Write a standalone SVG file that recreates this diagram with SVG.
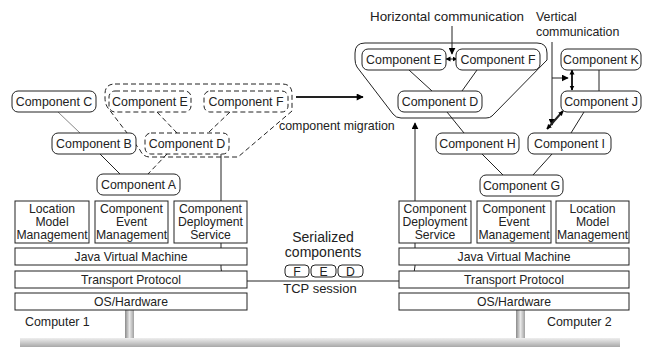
<svg xmlns="http://www.w3.org/2000/svg" width="645" height="348" viewBox="0 0 645 348">
<defs>
<marker id="ah" viewBox="0 0 10 10" refX="9" refY="5" markerWidth="7" markerHeight="7" markerUnits="userSpaceOnUse" orient="auto-start-reverse"><path d="M0,0 L10,5 L0,10 Z" fill="#000"/></marker>
<marker id="ahm" viewBox="0 0 10 10" refX="9" refY="5" markerWidth="8" markerHeight="7" markerUnits="userSpaceOnUse" orient="auto-start-reverse"><path d="M0,0 L10,5 L0,10 Z" fill="#000"/></marker>
<marker id="ahs" viewBox="0 0 10 10" refX="9" refY="5" markerWidth="5" markerHeight="6" markerUnits="userSpaceOnUse" orient="auto-start-reverse"><path d="M0,0 L10,5 L0,10 Z" fill="#000"/></marker>
<linearGradient id="pipe" x1="0" y1="0" x2="1" y2="0"><stop offset="0" stop-color="#8a8a8a"/><stop offset="0.5" stop-color="#e8e8e8"/><stop offset="1" stop-color="#a0a0a0"/></linearGradient>
<linearGradient id="bus" x1="0" y1="0" x2="0" y2="1"><stop offset="0" stop-color="#eeeeee"/><stop offset="0.5" stop-color="#cccccc"/><stop offset="1" stop-color="#a8a8a8"/></linearGradient>
</defs>
<style>
text{font-family:"Liberation Sans",Arial,sans-serif;font-size:12.4px;fill:#222;text-anchor:middle}
.n{fill:#fff;stroke:#222;stroke-width:1}
.d{fill:#fff;stroke:#222;stroke-width:1;stroke-dasharray:5,3}
.l{stroke:#222;stroke-width:1;fill:none}
.dl{stroke:#222;stroke-width:1;fill:none;stroke-dasharray:5,3}
.t{stroke:#222;stroke-width:2;fill:none}
.s{font-size:12.2px}
.b{font-size:14px}
</style>
<rect width="645" height="348" fill="#fff"/>
<g id="network">
<rect x="125" y="309" width="9" height="29" fill="url(#pipe)"/>
<rect x="516" y="309" width="9" height="29" fill="url(#pipe)"/>
<rect x="20" y="338" width="600" height="9" fill="url(#bus)"/>
</g>
<g id="group-left">
<path class="d" d="M115,84 L282,84 Q292,84 292,94 L292,111 L238,157 L150,157 Q143,157 140,150 L108,108 Q105,104 105,98 L105,94 Q105,84 115,84 Z"/>
</g>
<g id="group-right">
<path class="l" d="M365,43 L537,43 Q547,43 547,53 L547,60 L492,116 Q490,118 486,118 L401,118 Q396,118 393,114 L357,67 Q355,64 355,59 L355,53 Q355,43 365,43 Z"/>
</g>
<g id="connectors">
<line x1="58" y1="112" x2="80" y2="133" stroke="#888" stroke-width="1"/>
<line class="l" x1="100" y1="154" x2="120" y2="174"/>
<line class="dl" x1="167" y1="154" x2="148" y2="174"/>
<line class="dl" x1="157" y1="112" x2="177" y2="133"/>
<line class="dl" x1="230" y1="112" x2="208" y2="133"/>
<line class="l" x1="409" y1="70" x2="432" y2="91"/>
<line class="l" x1="477" y1="70" x2="462" y2="91"/>
<line class="l" x1="447" y1="112" x2="464" y2="133"/>
<line class="l" x1="584" y1="112" x2="571" y2="133"/>
<line class="l" x1="599" y1="70" x2="599" y2="91"/>
<line class="l" x1="482" y1="154" x2="503" y2="175"/>
<line class="l" x1="552" y1="154" x2="533" y2="175"/>
<path class="l" d="M221,154 L221,268 Q221,281 234,281 L400,281 Q415,281 415,266 L415,123" marker-end="url(#ah)"/>
<line class="t" x1="296" y1="97" x2="363" y2="97" marker-end="url(#ahm)"/>
<line class="l" x1="452" y1="26" x2="452" y2="54" marker-end="url(#ah)"/>
<line class="l" stroke-width="1.5" x1="446" y1="59" x2="457" y2="59" marker-start="url(#ahs)" marker-end="url(#ahs)"/>
<line class="l" x1="552" y1="42" x2="552" y2="125" marker-end="url(#ah)"/>
<line class="l" x1="552" y1="78" x2="568" y2="78" marker-end="url(#ah)"/>
<line class="t" x1="572" y1="70" x2="572" y2="90" marker-start="url(#ahs)" marker-end="url(#ahs)"/>
<line class="t" x1="563" y1="111" x2="547" y2="129" marker-start="url(#ahs)" marker-end="url(#ahs)"/>
</g>
<g id="c-left"><rect class="n" x="12" y="91" width="84" height="21" rx="6"/><text x="54" y="106">Component C</text></g>
<g id="e-left"><rect class="d" x="109" y="91" width="82" height="21" rx="6"/><text x="150" y="106">Component E</text></g>
<g id="f-left"><rect class="d" x="204" y="91" width="84" height="21" rx="6"/><text x="246" y="106">Component F</text></g>
<g id="b-left"><rect class="n" x="52" y="133" width="84" height="21" rx="6"/><text x="94" y="148">Component B</text></g>
<g id="d-left"><rect class="d" x="145" y="133" width="84" height="21" rx="6"/><text x="187" y="148">Component D</text></g>
<g id="a-left"><rect class="n" x="97" y="174" width="83" height="21" rx="6"/><text x="138.5" y="189">Component A</text></g>
<g id="e-right"><rect class="n" x="362" y="49" width="84" height="21" rx="6"/><text x="404" y="64">Component E</text></g>
<g id="f-right"><rect class="n" x="456" y="49" width="84" height="21" rx="6"/><text x="498" y="64">Component F</text></g>
<g id="k-right"><rect class="n" x="561" y="49" width="80" height="21" rx="6"/><text x="601" y="64">Component K</text></g>
<g id="d-right"><rect class="n" x="398" y="91" width="84" height="21" rx="6"/><text x="440" y="106">Component D</text></g>
<g id="j-right"><rect class="n" x="561" y="91" width="80" height="21" rx="6"/><text x="601" y="106">Component J</text></g>
<g id="h-right"><rect class="n" x="436" y="133" width="83" height="21" rx="6"/><text x="477.5" y="148">Component H</text></g>
<g id="i-right"><rect class="n" x="528" y="133" width="83" height="21" rx="6"/><text x="569.5" y="148">Component I</text></g>
<g id="g-right"><rect class="n" x="480" y="175" width="83" height="21" rx="6"/><text x="521.5" y="190">Component G</text></g>
<g id="lmm-left"><rect class="n" x="15" y="201" width="74" height="42"/><text class="s" x="52" y="213">Location</text><text class="s" x="52" y="226">Model</text><text class="s" x="52" y="239">Management</text></g>
<g id="cem-left"><rect class="n" x="95" y="201" width="73" height="42"/><text class="s" x="131.5" y="213">Component</text><text class="s" x="131.5" y="226">Event</text><text class="s" x="131.5" y="239">Management</text></g>
<g id="cds-left"><rect class="n" x="174" y="201" width="73" height="42"/><text class="s" x="210.5" y="213">Component</text><text class="s" x="210.5" y="226">Deployment</text><text class="s" x="210.5" y="239">Service</text></g>
<g id="jvm-left"><rect class="n" x="15" y="248" width="232" height="17"/><text class="s" x="131" y="261">Java Virtual Machine</text></g>
<g id="tp-left"><rect class="n" x="15" y="271" width="232" height="17"/><text class="s" x="131" y="284">Transport Protocol</text></g>
<g id="os-left"><rect class="n" x="15" y="293" width="232" height="17"/><text class="s" x="131" y="306">OS/Hardware</text></g>
<g id="cds-right"><rect class="n" x="399" y="201" width="72" height="42"/><text class="s" x="435" y="213">Component</text><text class="s" x="435" y="226">Deployment</text><text class="s" x="435" y="239">Service</text></g>
<g id="cem-right"><rect class="n" x="477" y="201" width="74" height="42"/><text class="s" x="514" y="213">Component</text><text class="s" x="514" y="226">Event</text><text class="s" x="514" y="239">Management</text></g>
<g id="lmm-right"><rect class="n" x="556" y="201" width="73" height="42"/><text class="s" x="592.5" y="213">Location</text><text class="s" x="592.5" y="226">Model</text><text class="s" x="592.5" y="239">Management</text></g>
<g id="jvm-right"><rect class="n" x="399" y="248" width="230" height="17"/><text class="s" x="514" y="261">Java Virtual Machine</text></g>
<g id="tp-right"><rect class="n" x="399" y="271" width="230" height="17"/><text class="s" x="514" y="284">Transport Protocol</text></g>
<g id="os-right"><rect class="n" x="399" y="293" width="230" height="17"/><text class="s" x="514" y="306">OS/Hardware</text></g>
<g id="serialized">
<text class="b" x="323" y="242">Serialized</text>
<text class="b" x="323" y="257">components</text>
<rect class="n" x="285" y="265" width="24" height="12" rx="4"/><text class="s" x="297" y="276">F</text>
<rect class="n" x="311" y="265" width="25" height="12" rx="4"/><text class="s" x="323.5" y="276">E</text>
<rect class="n" x="338" y="265" width="25" height="12" rx="4"/><text class="s" x="350.5" y="276">D</text>
<text x="320" y="293" style="font-size:13px">TCP session</text>
</g>
<text x="279" y="130" style="text-anchor:start">component migration</text>
<text x="370" y="21" style="text-anchor:start;font-size:13.4px">Horizontal communication</text>
<text x="536" y="21" style="text-anchor:start">Vertical</text>
<text x="536" y="36" style="text-anchor:start">communication</text>
<text x="25" y="326" style="text-anchor:start">Computer 1</text>
<text x="547" y="326" style="text-anchor:start">Computer 2</text>
</svg>
